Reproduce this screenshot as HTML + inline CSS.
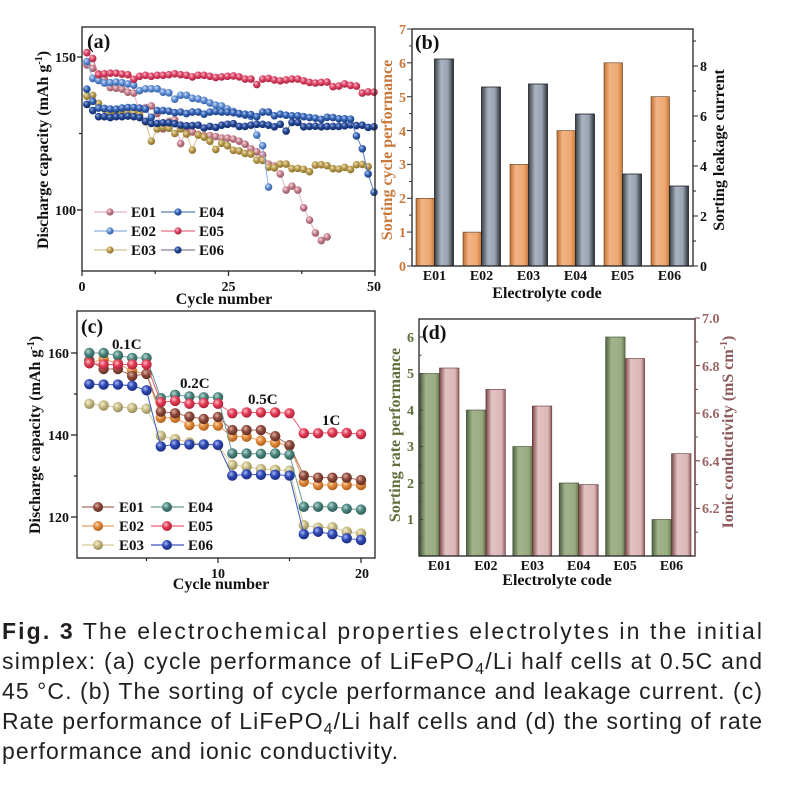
<!DOCTYPE html>
<html><head><meta charset="utf-8"><style>
html,body{margin:0;padding:0;background:#fff;}
svg{display:block;}
.t{font-family:"Liberation Serif",serif;font-weight:bold;fill:#111;}
.cap{font-family:"Liberation Sans",sans-serif;font-size:23px;fill:#231f20;}
</style></head><body>
<svg width="809" height="790" viewBox="0 0 809 790" xmlns="http://www.w3.org/2000/svg">
<defs>
<radialGradient id="ga1" cx="0.38" cy="0.35" r="0.7"><stop offset="0" stop-color="#f6dde2"/><stop offset="0.45" stop-color="#c57f8d"/><stop offset="1" stop-color="#8e4f5c"/></radialGradient>
<radialGradient id="ga2" cx="0.38" cy="0.35" r="0.7"><stop offset="0" stop-color="#d2e2f8"/><stop offset="0.45" stop-color="#5e8cd2"/><stop offset="1" stop-color="#2f5a9e"/></radialGradient>
<radialGradient id="ga3" cx="0.38" cy="0.35" r="0.7"><stop offset="0" stop-color="#efe2b8"/><stop offset="0.45" stop-color="#b89a4c"/><stop offset="1" stop-color="#7f6828"/></radialGradient>
<radialGradient id="ga4" cx="0.38" cy="0.35" r="0.7"><stop offset="0" stop-color="#b0c6ee"/><stop offset="0.45" stop-color="#3463b4"/><stop offset="1" stop-color="#16377a"/></radialGradient>
<radialGradient id="ga5" cx="0.38" cy="0.35" r="0.7"><stop offset="0" stop-color="#f8c0cc"/><stop offset="0.45" stop-color="#dc4264"/><stop offset="1" stop-color="#a0203c"/></radialGradient>
<radialGradient id="ga6" cx="0.38" cy="0.35" r="0.7"><stop offset="0" stop-color="#94aadf"/><stop offset="0.45" stop-color="#234593"/><stop offset="1" stop-color="#0f2760"/></radialGradient>
<radialGradient id="gc1" cx="0.38" cy="0.35" r="0.7"><stop offset="0" stop-color="#e0b0a4"/><stop offset="0.45" stop-color="#8e4a3c"/><stop offset="1" stop-color="#5c2a20"/></radialGradient>
<radialGradient id="gc2" cx="0.38" cy="0.35" r="0.7"><stop offset="0" stop-color="#fbd8a8"/><stop offset="0.45" stop-color="#e0883a"/><stop offset="1" stop-color="#a85a18"/></radialGradient>
<radialGradient id="gc3" cx="0.38" cy="0.35" r="0.7"><stop offset="0" stop-color="#f4eed4"/><stop offset="0.45" stop-color="#c8bc84"/><stop offset="1" stop-color="#8e8450"/></radialGradient>
<radialGradient id="gc4" cx="0.38" cy="0.35" r="0.7"><stop offset="0" stop-color="#bad8d2"/><stop offset="0.45" stop-color="#4d8680"/><stop offset="1" stop-color="#2a5650"/></radialGradient>
<radialGradient id="gc5" cx="0.38" cy="0.35" r="0.7"><stop offset="0" stop-color="#fbbcc6"/><stop offset="0.45" stop-color="#e43c56"/><stop offset="1" stop-color="#a81c34"/></radialGradient>
<radialGradient id="gc6" cx="0.38" cy="0.35" r="0.7"><stop offset="0" stop-color="#a8b8f4"/><stop offset="0.45" stop-color="#2f48b4"/><stop offset="1" stop-color="#18287a"/></radialGradient>

<marker id="ma1" markerUnits="userSpaceOnUse" markerWidth="1" markerHeight="1" style="overflow:visible"><ellipse rx="0.648" ry="1.242" fill="url(#ga1)"/></marker>
<marker id="ma2" markerUnits="userSpaceOnUse" markerWidth="1" markerHeight="1" style="overflow:visible"><ellipse rx="0.648" ry="1.242" fill="url(#ga2)"/></marker>
<marker id="ma3" markerUnits="userSpaceOnUse" markerWidth="1" markerHeight="1" style="overflow:visible"><ellipse rx="0.648" ry="1.242" fill="url(#ga3)"/></marker>
<marker id="ma4" markerUnits="userSpaceOnUse" markerWidth="1" markerHeight="1" style="overflow:visible"><ellipse rx="0.648" ry="1.242" fill="url(#ga4)"/></marker>
<marker id="ma5" markerUnits="userSpaceOnUse" markerWidth="1" markerHeight="1" style="overflow:visible"><ellipse rx="0.648" ry="1.242" fill="url(#ga5)"/></marker>
<marker id="ma6" markerUnits="userSpaceOnUse" markerWidth="1" markerHeight="1" style="overflow:visible"><ellipse rx="0.648" ry="1.242" fill="url(#ga6)"/></marker>

<marker id="mc1" markerUnits="userSpaceOnUse" markerWidth="1" markerHeight="1" style="overflow:visible"><ellipse rx="0.364" ry="1.268" fill="url(#gc1)"/></marker>
<marker id="mc2" markerUnits="userSpaceOnUse" markerWidth="1" markerHeight="1" style="overflow:visible"><ellipse rx="0.364" ry="1.268" fill="url(#gc2)"/></marker>
<marker id="mc3" markerUnits="userSpaceOnUse" markerWidth="1" markerHeight="1" style="overflow:visible"><ellipse rx="0.364" ry="1.268" fill="url(#gc3)"/></marker>
<marker id="mc4" markerUnits="userSpaceOnUse" markerWidth="1" markerHeight="1" style="overflow:visible"><ellipse rx="0.364" ry="1.268" fill="url(#gc4)"/></marker>
<marker id="mc5" markerUnits="userSpaceOnUse" markerWidth="1" markerHeight="1" style="overflow:visible"><ellipse rx="0.364" ry="1.268" fill="url(#gc5)"/></marker>
<marker id="mc6" markerUnits="userSpaceOnUse" markerWidth="1" markerHeight="1" style="overflow:visible"><ellipse rx="0.364" ry="1.268" fill="url(#gc6)"/></marker>

<linearGradient id="bo" x1="0" y1="0" x2="1" y2="0"><stop offset="0" stop-color="#c26e30"/><stop offset="0.3" stop-color="#f2b487"/><stop offset="0.75" stop-color="#eda872"/><stop offset="1" stop-color="#c87636"/></linearGradient>
<linearGradient id="bg" x1="0" y1="0" x2="1" y2="0"><stop offset="0" stop-color="#3a4048"/><stop offset="0.35" stop-color="#aab4c1"/><stop offset="0.7" stop-color="#98a3b1"/><stop offset="1" stop-color="#2c3137"/></linearGradient>
<linearGradient id="bgr" x1="0" y1="0" x2="1" y2="0"><stop offset="0" stop-color="#4d6140"/><stop offset="0.3" stop-color="#a2b38b"/><stop offset="0.8" stop-color="#9aab82"/><stop offset="1" stop-color="#627549"/></linearGradient>
<linearGradient id="bp" x1="0" y1="0" x2="1" y2="0"><stop offset="0" stop-color="#7a4646"/><stop offset="0.3" stop-color="#e2c2c2"/><stop offset="0.8" stop-color="#dcb8b8"/><stop offset="1" stop-color="#94605f"/></linearGradient>
</defs>

<!-- ================= PANEL (a) ================= -->
<g fill="none" stroke-width="1" vector-effect="non-scaling-stroke" transform="translate(81,57) scale(5.86,3.06)">
<polyline vector-effect="non-scaling-stroke" stroke="#e3b3bd" marker-start="url(#ma1)" marker-mid="url(#ma1)" marker-end="url(#ma1)" points="1,2.6 2,3.7 3,5.5 4,7.2 5,10 6,10.2 7,10.5 8,11.5 9,11.8 10,18 11,16.5 12,16 13,18.5 14,23.5 15,21 16,20.5 17,28.3 18,23.5 19,24.5 20,25.3 21,25.7 22,25.7 23,26 24,26.5 25,26.5 26,26.8 27,27.5 28,28.5 29,30 30,31 31,32 32,35 33,35.6 34,38.2 35,43.5 36,42.2 37,43.5 38,49.3 39,53.3 40,57.5 41,60 42,58.8"/>
<polyline vector-effect="non-scaling-stroke" stroke="#d5c08c" marker-start="url(#ma3)" marker-mid="url(#ma3)" marker-end="url(#ma3)" points="1,12.8 2,12.5 3,15.2 4,17 5,18 6,17.5 7,17.5 8,18.5 9,18.2 10,19 11,21.2 12,27.5 13,23.5 14,23 15,23.3 16,25 17,23.5 18,25.2 19,30.4 20,25.5 21,26.2 22,27.5 23,30.2 24,28.2 25,29 26,30.5 27,30.7 28,31.5 29,31.7 30,33.7 31,33.8 32,36 33,36.2 34,35 35,35 36,36.5 37,36.4 38,36.7 39,37.5 40,35.3 41,35.2 42,35.5 43,36.5 44,36.6 45,36.1 46,36.8 47,35.2 48,35.1 49,35.8"/>
<polyline vector-effect="non-scaling-stroke" stroke="#8fb0e0" marker-start="url(#ma2)" marker-mid="url(#ma2)" marker-end="url(#ma2)" points="1,1.5 2,7 3,7.7 4,8.5 5,8.4 6,8.2 7,8.4 8,8.8 9,9.2 10,11 11,10.4 12,10.4 13,10.4 14,11.5 15,11.7 16,13.8 17,12.5 18,12.5 19,13.5 20,13.7 21,14.2 22,15 23,15.7 24,16 25,17 26,17.8 27,18.6 28,19 29,19.4 30,25.5 31,29 32,42.5"/>
<polyline vector-effect="non-scaling-stroke" stroke="#7d8592" marker-start="url(#ma6)" marker-mid="url(#ma6)" marker-end="url(#ma6)" points="1,15.5 2,17.5 3,19.5 4,19.5 5,19.8 6,19.5 7,19.5 8,19.3 9,19.5 10,19.8 11,21 12,21.7 13,21.7 14,21.5 15,21.5 16,21.8 17,22.3 18,22.5 19,22.4 20,22.3 21,23.2 22,22.7 23,23 24,22.3 25,22 26,21.8 27,22.7 28,22.7 29,22.3 30,22 31,22 32,22.3 33,22.8 34,22 35,24.2 36,21.4 37,21.4 38,22.8 39,22.7 40,22.6 41,22.8 42,22.7 43,22.7 44,22.7 45,22.5 46,22.2 47,22.4 48,22.3 49,23 50,22.8"/>
<polyline vector-effect="non-scaling-stroke" stroke="#5d7fb8" marker-start="url(#ma4)" marker-mid="url(#ma4)" marker-end="url(#ma4)" points="1,10.5 2,14.5 3,16.7 4,16.8 5,17 6,17 7,16.7 8,16.5 9,16.5 10,16.7 11,17 12,19.7 13,17.5 14,17.5 15,17.7 16,18.2 17,18 18,18.5 19,18 20,18 21,18.7 22,18 23,17.8 24,18 25,18 26,18.2 27,18.5 28,18.7 29,18.8 30,19.5 31,18 32,18 33,19.2 34,18.7 35,19 36,19.2 37,19.2 38,19.5 39,19.8 40,20 41,20.4 42,19.7 43,19.8 44,20.2 45,20.2 46,20.3 47,25.8 48,30 49,38.2 50,44.2"/>
<polyline vector-effect="non-scaling-stroke" stroke="#e66f88" marker-start="url(#ma5)" marker-mid="url(#ma5)" marker-end="url(#ma5)" points="1,-1.4 2,0.5 3,5.8 4,5.5 5,5.3 6,5.3 7,5.6 8,5.8 9,7.3 10,6.3 11,6 12,6.3 13,6 14,6 15,5.8 16,5.5 17,5.8 18,6 19,6.5 20,6 21,6 22,6.3 23,6.7 24,6.5 25,6.3 26,6.2 27,6.5 28,7.2 29,7.2 30,9 31,7.2 32,7 33,7.5 34,7.8 35,7.5 36,7.2 37,7.2 38,7.8 39,8.3 40,8.5 41,8.3 42,8.2 43,9.7 44,9.5 45,8.8 46,9.3 47,9.5 48,11.8 49,11.4 50,11.5"/>
</g>
<rect x="82" y="27" width="293" height="244" fill="none" stroke="#222" stroke-width="1.3"/>
<path d="M82,57h-5M82,210h-5M82,133.5h-3M82,271v5M228.5,271v5M375,271v5M155.2,271v3M301.8,271v3" stroke="#222" stroke-width="1.2" fill="none"/>
<text class="t" x="87" y="48" font-size="20">(a)</text>
<g class="t" font-size="14" text-anchor="end"><text x="76" y="62">150</text><text x="76" y="215">100</text></g>
<g class="t" font-size="14" text-anchor="middle"><text x="82" y="291">0</text><text x="228.5" y="291">25</text><text x="374" y="291">50</text></g>
<text class="t" x="224" y="304" font-size="16" text-anchor="middle">Cycle number</text>
<text class="t" font-size="16" text-anchor="middle" transform="translate(48,150) rotate(-90)">Discharge capacity (mAh g<tspan font-size="10" dy="-6">-1</tspan><tspan dy="6">)</tspan></text>
<!-- legend a -->
<g stroke-width="1.2">
<line x1="94" y1="212" x2="127" y2="212" stroke="#e3b3bd"/><circle cx="110" cy="212" r="3.6" fill="url(#ga1)"/>
<line x1="94" y1="231" x2="127" y2="231" stroke="#8fb0e0"/><circle cx="110" cy="231" r="3.6" fill="url(#ga2)"/>
<line x1="94" y1="250" x2="127" y2="250" stroke="#d5c08c"/><circle cx="110" cy="250" r="3.6" fill="url(#ga3)"/>
<line x1="161" y1="212" x2="195" y2="212" stroke="#5d7fb8"/><circle cx="178" cy="212" r="3.6" fill="url(#ga4)"/>
<line x1="161" y1="231" x2="195" y2="231" stroke="#e66f88"/><circle cx="178" cy="231" r="3.6" fill="url(#ga5)"/>
<line x1="161" y1="250" x2="195" y2="250" stroke="#7d8592"/><circle cx="178" cy="250" r="3.6" fill="url(#ga6)"/>
</g>
<g class="t" font-size="15"><text x="131" y="217">E01</text><text x="131" y="236">E02</text><text x="131" y="255">E03</text><text x="199" y="217">E04</text><text x="199" y="236">E05</text><text x="199" y="255">E06</text></g>

<!-- ================= PANEL (b) ================= -->
<g stroke="#5a3a20" stroke-width="0.6">
<rect x="416" y="198.3" width="18.5" height="67.7" fill="url(#bo)"/>
<rect x="463" y="232.1" width="18.5" height="33.9" fill="url(#bo)"/>
<rect x="510" y="164.4" width="18.5" height="101.6" fill="url(#bo)"/>
<rect x="557" y="130.6" width="18.5" height="135.4" fill="url(#bo)"/>
<rect x="604" y="62.8" width="18.5" height="203.2" fill="url(#bo)"/>
<rect x="651" y="96.7" width="18.5" height="169.3" fill="url(#bo)"/>
</g>
<g stroke="#1e2226" stroke-width="0.8">
<rect x="434.5" y="59" width="19" height="207" fill="url(#bg)"/>
<rect x="481.5" y="87" width="19" height="179" fill="url(#bg)"/>
<rect x="528.5" y="84" width="19" height="182" fill="url(#bg)"/>
<rect x="575.5" y="114" width="19" height="152" fill="url(#bg)"/>
<rect x="622.5" y="174" width="19" height="92" fill="url(#bg)"/>
<rect x="669.5" y="186" width="19" height="80" fill="url(#bg)"/>
</g>
<rect x="412" y="29" width="281" height="237" fill="none" stroke="#222" stroke-width="1.3"/>
<path d="M412,266h-5M412,232.1h-5M412,198.3h-5M412,164.4h-5M412,130.6h-5M412,96.7h-5M412,62.8h-5M412,29h-5M412,249.1h-3M412,215.2h-3M412,181.4h-3M412,147.5h-3M412,113.6h-3M412,79.8h-3M412,45.9h-3" stroke="#444" stroke-width="1.1"/>
<path d="M693,266h5M693,216h5M693,166h5M693,116h5M693,66h5M693,241h3M693,191h3M693,141h3M693,91h3M693,41h3" stroke="#222" stroke-width="1.1"/>
<g class="t" font-size="14" text-anchor="end" style="fill:#c8783a"><text x="406" y="271">0</text><text x="406" y="237">1</text><text x="406" y="203">2</text><text x="406" y="169">3</text><text x="406" y="136">4</text><text x="406" y="102">5</text><text x="406" y="68">6</text><text x="406" y="34">7</text></g>
<g class="t" font-size="14"><text x="700" y="271">0</text><text x="700" y="221">2</text><text x="700" y="171">4</text><text x="700" y="121">6</text><text x="700" y="71">8</text></g>
<text class="t" font-size="16" text-anchor="middle" style="fill:#c8783a" transform="translate(392,150) rotate(-90)">Sorting cycle performance</text>
<text class="t" font-size="16" text-anchor="middle" transform="translate(724,150) rotate(-90)">Sorting leakage current</text>
<text class="t" x="415" y="49" font-size="20">(b)</text>
<g class="t" font-size="14" text-anchor="middle"><text x="434.5" y="280">E01</text><text x="481.5" y="280">E02</text><text x="528.5" y="280">E03</text><text x="575.5" y="280">E04</text><text x="622.5" y="280">E05</text><text x="669.5" y="280">E06</text></g>
<text class="t" x="547" y="298" font-size="16" text-anchor="middle">Electrolyte code</text>

<!-- ================= PANEL (c) ================= -->
<g fill="none" transform="translate(75,353) scale(14.3,4.1)">
<polyline vector-effect="non-scaling-stroke" stroke-width="1" stroke="#d4ca98" marker-start="url(#mc3)" marker-mid="url(#mc3)" marker-end="url(#mc3)" points="1,12.4 2,12.8 3,13.2 4,13.4 5,13.6 6,20.2 7,21 8,21.8 9,22.3 10,22.5 11,27.3 12,27.7 13,28.3 14,28.5 15,28.7 16,42 17,42.6 18,42.5 19,43.6 20,44"/>
<polyline vector-effect="non-scaling-stroke" stroke-width="1" stroke="#e8a060" marker-start="url(#mc2)" marker-mid="url(#mc2)" marker-end="url(#mc2)" points="1,2.5 2,1.5 3,2.5 4,4.5 5,5 6,15.8 7,15.8 8,17.6 9,17.7 10,17.7 11,20.4 12,20.4 13,21.4 14,21.9 15,22.6 16,31.4 17,32.2 18,32.2 19,32.2 20,32.2"/>
<polyline vector-effect="non-scaling-stroke" stroke-width="1" stroke="#a86a5c" marker-start="url(#mc1)" marker-mid="url(#mc1)" marker-end="url(#mc1)" points="1,1.8 2,3.9 3,3.9 4,5.6 5,5.1 6,14.3 7,14.7 8,15.5 9,16.1 10,15.6 11,18.8 12,18.8 13,18.8 14,20.3 15,22.5 16,29.9 17,30.4 18,30.4 19,30.4 20,31"/>
<polyline vector-effect="non-scaling-stroke" stroke-width="1" stroke="#6a9a94" marker-start="url(#mc4)" marker-mid="url(#mc4)" marker-end="url(#mc4)" points="1,0 2,0 3,0.6 4,1.2 5,1.2 6,11 7,10.2 8,10.6 9,10.8 10,10.8 11,24.5 12,24.5 13,24.6 14,24.5 15,24.8 16,37.5 17,37.5 18,37.5 19,38 20,38.2"/>
<polyline vector-effect="non-scaling-stroke" stroke-width="1" stroke="#e85a70" marker-start="url(#mc5)" marker-mid="url(#mc5)" marker-end="url(#mc5)" points="1,2.5 2,2.8 3,2.8 4,2.8 5,2.8 6,12 7,11.7 8,12.4 9,12.2 10,12.4 11,14.7 12,14.5 13,14.5 14,14.5 15,14.7 16,19.6 17,19.6 18,19.4 19,19.5 20,19.8"/>
<polyline vector-effect="non-scaling-stroke" stroke-width="1" stroke="#3a58c0" marker-start="url(#mc6)" marker-mid="url(#mc6)" marker-end="url(#mc6)" points="1,7.6 2,7.7 3,7.7 4,8 5,9.1 6,22.8 7,22.3 8,22.3 9,22.3 10,22.4 11,29.9 12,29.6 13,29.7 14,29.7 15,29.9 16,44.2 17,43.6 18,44.2 19,45.2 20,45.6"/>
</g>
<rect x="77" y="311" width="298" height="247" fill="none" stroke="#222" stroke-width="1.3"/>
<path d="M77,353h-6M77,435h-6M77,517h-6M77,394h-3M77,476h-3M218,558v5M361,558v5M146.5,558v3M289.5,558v3" stroke="#222" stroke-width="1.2"/>
<g class="t" font-size="14" text-anchor="end"><text x="69" y="358">160</text><text x="69" y="440">140</text><text x="69" y="522">120</text></g>
<g class="t" font-size="14" text-anchor="middle"><text x="218" y="578">10</text><text x="362" y="578">20</text></g>
<text class="t" x="221" y="589" font-size="16" text-anchor="middle">Cycle number</text>
<text class="t" font-size="16" text-anchor="middle" transform="translate(40,435) rotate(-90)">Discharge capacity (mAh g<tspan font-size="10" dy="-6">-1</tspan><tspan dy="6">)</tspan></text>
<text class="t" x="81" y="333" font-size="20">(c)</text>
<g class="t" font-size="15"><text x="112" y="349">0.1C</text><text x="180" y="388">0.2C</text><text x="248" y="404">0.5C</text><text x="322" y="425">1C</text></g>
<!-- legend c -->
<g stroke-width="1.3">
<line x1="82" y1="507" x2="114" y2="507" stroke="#a86a5c"/><circle cx="98" cy="507" r="5" fill="url(#gc1)"/>
<line x1="82" y1="526" x2="114" y2="526" stroke="#e8a060"/><circle cx="98" cy="526" r="5" fill="url(#gc2)"/>
<line x1="82" y1="545" x2="114" y2="545" stroke="#d4ca98"/><circle cx="98" cy="545" r="5" fill="url(#gc3)"/>
<line x1="151" y1="507" x2="184" y2="507" stroke="#6a9a94"/><circle cx="167" cy="507" r="5" fill="url(#gc4)"/>
<line x1="151" y1="526" x2="184" y2="526" stroke="#e85a70"/><circle cx="167" cy="526" r="5" fill="url(#gc5)"/>
<line x1="151" y1="545" x2="184" y2="545" stroke="#3a58c0"/><circle cx="167" cy="545" r="5" fill="url(#gc6)"/>
</g>
<g class="t" font-size="15"><text x="119" y="512">E01</text><text x="119" y="531">E02</text><text x="119" y="550">E03</text><text x="188" y="512">E04</text><text x="188" y="531">E05</text><text x="188" y="550">E06</text></g>

<!-- ================= PANEL (d) ================= -->
<g stroke="#3c4a30" stroke-width="0.6">
<rect x="420" y="373.5" width="19.5" height="182.5" fill="url(#bgr)"/>
<rect x="466.4" y="410" width="19.5" height="146" fill="url(#bgr)"/>
<rect x="512.8" y="446.5" width="19.5" height="109.5" fill="url(#bgr)"/>
<rect x="559.2" y="483" width="19.5" height="73" fill="url(#bgr)"/>
<rect x="605.6" y="337" width="19.5" height="219" fill="url(#bgr)"/>
<rect x="652" y="519.5" width="19.5" height="36.5" fill="url(#bgr)"/>
</g>
<g stroke="#5e3636" stroke-width="0.6">
<rect x="439.5" y="368" width="19.5" height="188" fill="url(#bp)"/>
<rect x="485.9" y="389.4" width="19.5" height="166.6" fill="url(#bp)"/>
<rect x="532.3" y="406" width="19.5" height="150" fill="url(#bp)"/>
<rect x="578.7" y="484.6" width="19.5" height="71.4" fill="url(#bp)"/>
<rect x="625.1" y="358.5" width="19.5" height="197.5" fill="url(#bp)"/>
<rect x="671.5" y="453.7" width="19.5" height="102.3" fill="url(#bp)"/>
</g>
<rect x="419" y="319" width="276" height="237" fill="none" stroke="#222" stroke-width="1.3"/>
<path d="M419,519.5h4M419,483h4M419,446.5h4M419,410h4M419,373.5h4M419,337h4M419,537.75h2.5M419,501.25h2.5M419,464.75h2.5M419,428.25h2.5M419,391.75h2.5M419,355.25h2.5" stroke="#444" stroke-width="1.1"/>
<path d="M695,318v238" stroke="#6e4040" stroke-width="1.3"/>
<path d="M695,318h5M695,365.6h5M695,413.2h5M695,460.8h5M695,508.4h5M695,341.8h3M695,389.4h3M695,437h3M695,484.6h3M695,532.2h3" stroke="#7a4a4a" stroke-width="1.1"/>
<g class="t" font-size="14" text-anchor="end" style="fill:#5f6e3a"><text x="414" y="524">1</text><text x="414" y="488">2</text><text x="414" y="451">3</text><text x="414" y="415">4</text><text x="414" y="378">5</text><text x="414" y="342">6</text></g>
<g class="t" font-size="14" style="fill:#9a6464"><text x="702" y="323">7.0</text><text x="702" y="371">6.8</text><text x="702" y="418">6.6</text><text x="702" y="466">6.4</text><text x="702" y="513">6.2</text></g>
<text class="t" font-size="16" text-anchor="middle" style="fill:#5f6e3a" transform="translate(400,435) rotate(-90)">Sorting rate performance</text>
<text class="t" font-size="16" text-anchor="middle" style="fill:#8c5a5a" transform="translate(733,432) rotate(-90)">Ionic conductivity (mS cm<tspan font-size="10" dy="-6">-1</tspan><tspan dy="6">)</tspan></text>
<text class="t" x="422" y="339" font-size="20">(d)</text>
<g class="t" font-size="14" text-anchor="middle"><text x="439.5" y="570">E01</text><text x="485.9" y="570">E02</text><text x="532.3" y="570">E03</text><text x="578.7" y="570">E04</text><text x="625.1" y="570">E05</text><text x="671.5" y="570">E06</text></g>
<text class="t" x="557" y="585" font-size="16" text-anchor="middle">Electrolyte code</text>

<!-- ================= CAPTION ================= -->
<text class="cap" x="2" y="639" textLength="760" lengthAdjust="spacing"><tspan font-weight="bold">Fig. 3</tspan>  The electrochemical properties electrolytes in the initial</text>
<text class="cap" x="2" y="669" textLength="760" lengthAdjust="spacing">simplex: (a) cycle performance of LiFePO<tspan font-size="16" dy="5">4</tspan><tspan dy="-5">/Li half cells at 0.5C and</tspan></text>
<text class="cap" x="2" y="699" textLength="760" lengthAdjust="spacing">45 °C. (b) The sorting of cycle performance and leakage current. (c)</text>
<text class="cap" x="2" y="729" textLength="760" lengthAdjust="spacing">Rate performance of LiFePO<tspan font-size="16" dy="5">4</tspan><tspan dy="-5">/Li half cells and (d) the sorting of rate</tspan></text>
<text class="cap" x="2" y="759" textLength="396" lengthAdjust="spacing">performance and ionic conductivity.</text>
</svg>
</body></html>
